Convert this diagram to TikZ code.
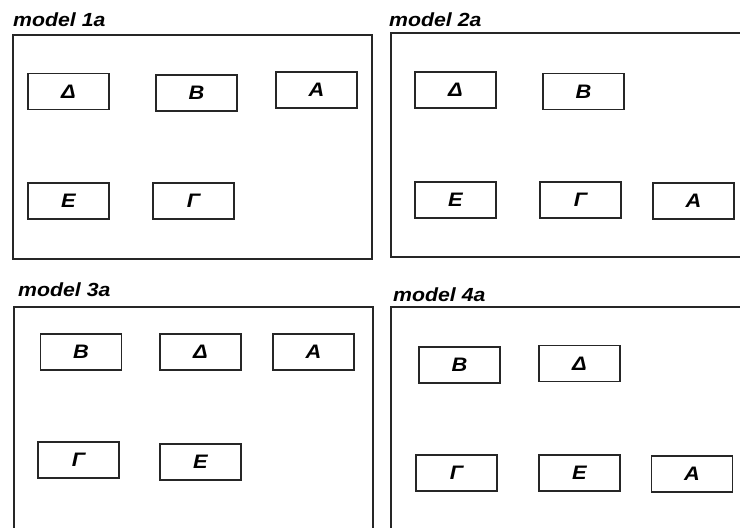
\documentclass[tikz,border=0pt]{standalone}
\usepackage{fontspec}
\setmainfont{Liberation Sans}
\newfontfamily\stretchfont[FakeStretch=1.12]{Liberation Sans}
\begin{document}
\begin{tikzpicture}[x=1pt,y=-1pt,
  lbl/.style={draw=black!85,line width=1.4pt,minimum width=81pt,minimum height=36pt,inner sep=0pt,
    font=\stretchfont\fontsize{19.5}{19.5}\selectfont\bfseries\itshape},
  ttl/.style={anchor=base west,inner sep=0pt,font=\stretchfont\fontsize{19}{19}\selectfont\bfseries\itshape},
  frame/.style={draw=black!85,line width=1.4pt}]
\useasboundingbox (0,0) rectangle (740,528);
\clip (0,0) rectangle (740,528);
% titles
\node[ttl] (t1) at (13,26) {model 1a};
\node[ttl] (t2) at (389,26) {model 2a};
\node[ttl] (t3) at (18,296) {model 3a};
\node[ttl] (t4) at (393,301) {model 4a};
% frames
\draw[frame] (13,35) rectangle (372,259);
\draw[frame] (750,33) -- (391,33) -- (391,257) -- (750,257);
\draw[frame] (14,540) -- (14,307) -- (373,307) -- (373,540);
\draw[frame] (391,540) -- (391,307) -- (750,307);
% model 1a
\node[lbl] (d1) at (68.5,91.5) {Δ};
\node[lbl] (b1) at (196.5,93) {Β};
\node[lbl] (a1) at (316.5,90) {Α};
\node[lbl] (e1) at (68.5,201) {Ε};
\node[lbl] (g1) at (193.5,201) {Γ};
% model 2a
\node[lbl] (d2) at (455.5,90) {Δ};
\node[lbl] (b2) at (583.5,91.5) {Β};
\node[lbl] (e2) at (455.5,200) {Ε};
\node[lbl] (g2) at (580.5,200) {Γ};
\node[lbl] (a2) at (693.5,201) {Α};
% model 3a
\node[lbl] (b3) at (81,352) {Β};
\node[lbl] (d3) at (200.5,352) {Δ};
\node[lbl] (a3) at (313.5,352) {Α};
\node[lbl] (g3) at (78.5,460) {Γ};
\node[lbl] (e3) at (200.5,462) {Ε};
% model 4a
\node[lbl] (b4) at (459.5,365) {Β};
\node[lbl] (d4) at (579.5,363.5) {Δ};
\node[lbl] (g4) at (456.5,473) {Γ};
\node[lbl] (e4) at (579.5,473) {Ε};
\node[lbl] (a4) at (692,474) {Α};
\end{tikzpicture}
\end{document}
